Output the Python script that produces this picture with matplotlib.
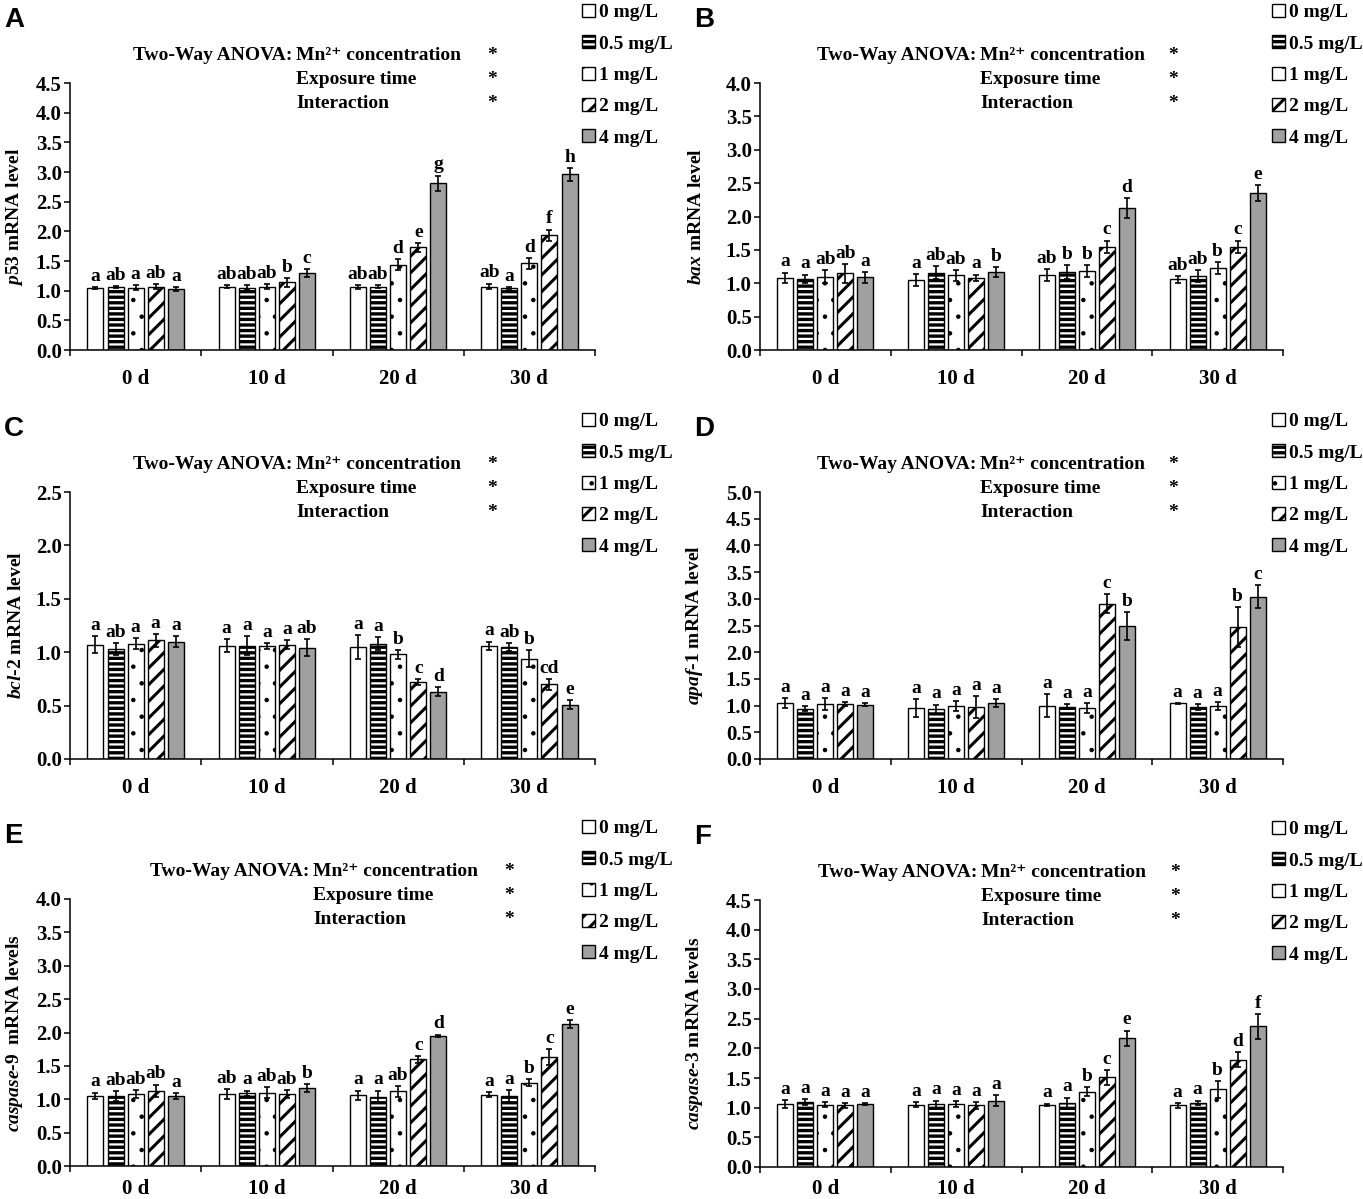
import matplotlib
matplotlib.use("Agg")
import matplotlib.pyplot as plt
import numpy as np

plt.rcParams.update({
    "font.family": ["Liberation Serif", "DejaVu Serif"],
    "font.weight": "bold",
    "font.size": 14,
    "axes.labelweight": "bold",
    "axes.linewidth": 1.1,
    "hatch.linewidth": 2.2,
    "mathtext.fontset": "custom",
    "mathtext.rm": "Liberation Serif:bold",
    "mathtext.it": "Liberation Serif:italic:bold",
    "mathtext.bf": "Liberation Serif:bold",
})

days = ["0 d", "10 d", "20 d", "30 d"]
doses = ["0 mg/L", "0.5 mg/L", "1 mg/L", "2 mg/L", "4 mg/L"]

# values per day (rows) for the five doses (columns)
p53_mean = [[1.04, 1.06, 1.05, 1.07, 1.03],
            [1.07, 1.05, 1.07, 1.14, 1.30],
            [1.06, 1.07, 1.44, 1.73, 2.81],
            [1.07, 1.04, 1.46, 1.93, 2.96]]
p53_err = [[0.02, 0.02, 0.04, 0.04, 0.03],
           [0.02, 0.04, 0.04, 0.07, 0.07],
           [0.04, 0.02, 0.10, 0.07, 0.13],
           [0.05, 0.02, 0.09, 0.10, 0.11]]
p53_letters = [["a", "ab", "a", "ab", "a"],
               ["ab", "ab", "ab", "b", "c"],
               ["ab", "ab", "d", "e", "g"],
               ["ab", "a", "d", "f", "h"]]

bax_mean = [[1.08, 1.07, 1.10, 1.15, 1.09],
            [1.05, 1.16, 1.12, 1.08, 1.17],
            [1.12, 1.17, 1.18, 1.55, 2.13],
            [1.06, 1.11, 1.23, 1.55, 2.35]]
bax_err = [[0.08, 0.06, 0.10, 0.14, 0.08],
           [0.09, 0.10, 0.08, 0.05, 0.07],
           [0.09, 0.10, 0.09, 0.09, 0.15],
           [0.05, 0.09, 0.09, 0.09, 0.12]]
bax_letters = [["a", "a", "ab", "ab", "a"],
               ["a", "ab", "ab", "a", "b"],
               ["ab", "b", "b", "c", "d"],
               ["ab", "ab", "b", "c", "e"]]

bcl2_mean = [[1.07, 1.03, 1.08, 1.11, 1.10],
             [1.06, 1.06, 1.06, 1.07, 1.04],
             [1.05, 1.08, 0.98, 0.72, 0.63],
             [1.06, 1.05, 0.94, 0.70, 0.51]]
bcl2_err = [[0.08, 0.06, 0.05, 0.06, 0.05],
            [0.06, 0.09, 0.03, 0.04, 0.08],
            [0.11, 0.06, 0.04, 0.03, 0.04],
            [0.04, 0.04, 0.08, 0.05, 0.04]]
bcl2_letters = [["a", "ab", "a", "a", "a"],
                ["a", "a", "a", "a", "ab"],
                ["a", "a", "b", "c", "d"],
                ["a", "ab", "b", "cd", "e"]]

apaf1_mean = [[1.05, 0.94, 1.03, 1.03, 1.02],
              [0.96, 0.93, 0.99, 0.97, 1.05],
              [1.00, 0.98, 0.95, 2.91, 2.49],
              [1.04, 0.97, 0.99, 2.47, 3.04]]
apaf1_err = [[0.10, 0.05, 0.12, 0.03, 0.03],
             [0.17, 0.09, 0.10, 0.21, 0.07],
             [0.22, 0.05, 0.09, 0.18, 0.27],
             [0.01, 0.06, 0.07, 0.38, 0.21]]
apaf1_letters = [["a", "a", "a", "a", "a"],
                 ["a", "a", "a", "a", "a"],
                 ["a", "a", "a", "c", "b"],
                 ["a", "a", "a", "b", "c"]]

casp9_mean = [[1.05, 1.05, 1.08, 1.13, 1.05],
              [1.08, 1.09, 1.10, 1.08, 1.17],
              [1.06, 1.04, 1.12, 1.60, 1.95],
              [1.07, 1.05, 1.25, 1.63, 2.12]]
casp9_err = [[0.05, 0.07, 0.06, 0.09, 0.04],
             [0.07, 0.04, 0.08, 0.06, 0.06],
             [0.07, 0.09, 0.08, 0.05, 0.02],
             [0.04, 0.09, 0.05, 0.12, 0.06]]
casp9_letters = [["a", "ab", "ab", "ab", "a"],
                 ["ab", "a", "ab", "ab", "b"],
                 ["a", "a", "ab", "c", "d"],
                 ["a", "a", "b", "c", "e"]]

casp3_mean = [[1.06, 1.09, 1.05, 1.04, 1.06],
              [1.05, 1.06, 1.06, 1.04, 1.12],
              [1.05, 1.08, 1.27, 1.51, 2.17],
              [1.04, 1.08, 1.31, 1.81, 2.37]]
casp3_err = [[0.07, 0.05, 0.04, 0.04, 0.02],
             [0.04, 0.06, 0.05, 0.06, 0.09],
             [0.02, 0.09, 0.08, 0.12, 0.13],
             [0.04, 0.04, 0.14, 0.12, 0.21]]
casp3_letters = [["a", "a", "a", "a", "a"],
                 ["a", "a", "a", "a", "a"],
                 ["a", "a", "b", "c", "e"],
                 ["a", "a", "b", "d", "f"]]

W, H = 1363, 1199
fig = plt.figure(figsize=(W / 100, H / 100), dpi=100)

# (facecolor, hatch, hatch linewidth) per dose
bar_styles = [("white", None, 1.0),
              ("white", "---", 2.4),
              ("white", ".", 0.8),
              ("white", "//", 2.2),
              ("#a0a0a0", None, 1.0)]


def ftext(xpx, ypx, s, **kw):
    return fig.text(xpx / W, 1 - ypx / H, s, **kw)


def draw_panel(letter, mean, err, letters, ylabel, ymax, left, top, width,
               anova_dx, star_dx, label_x, xpad=14):
    height = 267
    ax = fig.add_axes([left / W, 1 - (top + height) / H, width / W, height / H])
    mean = np.array(mean)
    err = np.array(err)
    letters = np.array(letters)
    x = np.arange(len(days))
    handles = []
    for i, dose in enumerate(doses):
        fc, hatch, hw = bar_styles[i]
        pos = x + (i - 2) * 0.153
        with plt.rc_context({"hatch.linewidth": hw}):
            bars = ax.bar(pos, mean[:, i], 0.122, yerr=err[:, i], color=fc,
                          edgecolor="black", linewidth=1.0, hatch=hatch,
                          label=dose,
                          error_kw=dict(ecolor="black", elinewidth=1.2,
                                        capsize=2.5, capthick=1.2))
        for b in bars:
            if hasattr(b, "set_hatch_linewidth"):
                b.set_hatch_linewidth(hw)
        handles.append(bars)
        for xp, m, e, lab in zip(pos, mean[:, i], err[:, i], letters[:, i]):
            ax.annotate(lab, (xp, m + e), xytext=(0, 1.5),
                        textcoords="offset points", ha="center", va="bottom",
                        fontsize=14)

    ax.set_xlim(-0.5, 3.5)
    ax.set_ylim(0, ymax)
    ax.set_yticks(np.arange(0, ymax + 0.01, 0.5))
    ax.yaxis.set_major_formatter(plt.FormatStrFormatter("%.1f"))
    ax.set_xticks(x)
    ax.set_xticklabels(days)
    ax.set_xticks(np.arange(-0.5, 3.6, 1.0), minor=True)
    ax.tick_params(axis="x", which="major", length=0, pad=xpad, labelsize=15)
    ax.tick_params(axis="x", which="minor", length=4, width=1.1, direction="out")
    ax.tick_params(axis="y", length=4, width=1.1, direction="out", pad=2,
                   labelsize=15)
    ax.spines["top"].set_visible(False)
    ax.spines["right"].set_visible(False)
    ax.set_ylabel(ylabel, fontsize=14)
    ax.yaxis.set_label_coords(label_x / width, 0.5)

    # legend above right of the axes
    leg = fig.legend(handles, doses, loc="upper left",
                     bbox_to_anchor=((left + 512) / W, 1 - (top - 79) / H),
                     frameon=False, fontsize=14, borderpad=0, borderaxespad=0,
                     handlelength=0.65, handleheight=0.65, handletextpad=0.2,
                     labelspacing=0.72)
    for p, (fc, hatch, hw) in zip(leg.get_patches(), bar_styles):
        if hasattr(p, "set_hatch_linewidth"):
            p.set_hatch_linewidth(hw)

    # two-way ANOVA summary
    xm = left + anova_dx
    xs = left + star_dx
    base = top - 23
    ftext(xm - 4, base, "Two-Way ANOVA:", ha="right", va="baseline")
    ftext(xm, base, "Mn²⁺ concentration", ha="left", va="baseline")
    ftext(xm, base + 24, "Exposure time", ha="left", va="baseline")
    ftext(xm, base + 48, "Interaction", ha="left", va="baseline")
    for k in range(3):
        ftext(xs, base + 24 * k, "*", ha="left", va="baseline")

    ftext(left - 66, top - 63, letter, ha="left", va="center",
          family="Liberation Sans", fontsize=20, weight="bold")


draw_panel("A", p53_mean, p53_err, p53_letters,
           r"$\mathit{p53}$ mRNA level", 4.5, 70, 83, 525, 226, 417, -45)
draw_panel("B", bax_mean, bax_err, bax_letters,
           r"$\mathit{bax}$ mRNA level", 4.0, 760, 83, 523, 220, 408, -55)
draw_panel("C", bcl2_mean, bcl2_err, bcl2_letters,
           r"$\mathit{bcl}$-$\mathit{2}$ mRNA level", 2.5, 70, 492, 525,
           226, 417, -45)
draw_panel("D", apaf1_mean, apaf1_err, apaf1_letters,
           r"$\mathit{apaf}$-$\mathit{1}$ mRNA level", 5.0, 760, 492, 523,
           220, 408, -55)
draw_panel("E", casp9_mean, casp9_err, casp9_letters,
           r"$\mathit{caspase}$-$\mathit{9}$  mRNA levels", 4.0, 70, 899, 525,
           243, 434, -45, xpad=9)
draw_panel("F", casp3_mean, casp3_err, casp3_letters,
           r"$\mathit{caspase}$-$\mathit{3}$ mRNA levels", 4.5, 760, 900, 523,
           221, 410, -55, xpad=9)

fig.savefig("out.png", dpi=100)
